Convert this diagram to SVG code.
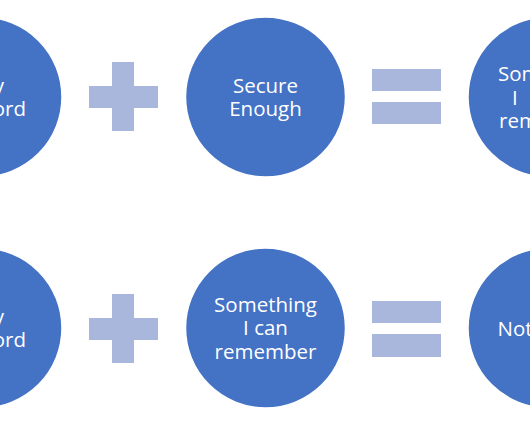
<svg xmlns="http://www.w3.org/2000/svg" width="530" height="442" viewBox="0 0 530 442">
  <style>
    .node { fill: #4472C4; stroke: #FFFFFF; stroke-width: 1.5; }
    .op { fill: #AAB7DC; }
    .lbl { font-family: "Open Sans", "Liberation Sans", sans-serif; font-size: 20.5px; fill: #FFFFFF; }
    .c { text-anchor: middle; }
    .e { text-anchor: end; }
    .s { text-anchor: start; }
  </style>
  <rect x="0" y="0" width="530" height="442" fill="#FFFFFF"/>

  <!-- Row 1 -->
  <g id="node-top-left">
    <circle class="node" cx="-18" cy="97" r="80"/>
    <text class="lbl e" x="4" y="93">y</text>
    <text class="lbl e" x="26" y="116">ord</text>
  </g>
  <g id="op-top-plus">
    <path class="op" d="M112,62 H134 V86 H158 V108 H134 V131 H112 V108 H89 V86 H112 Z"/>
  </g>
  <g id="node-top-middle">
    <circle class="node" cx="265.5" cy="97" r="80"/>
    <text class="lbl c" x="265.5" y="93">Secure</text>
    <text class="lbl c" x="265.5" y="116">Enough</text>
  </g>
  <g id="op-top-equals">
    <rect class="op" x="372" y="69" width="69" height="22"/>
    <rect class="op" x="372" y="102" width="69" height="22"/>
  </g>
  <g id="node-top-right">
    <circle class="node" cx="548" cy="97" r="80"/>
    <text class="lbl s" x="498" y="81">Som</text>
    <text class="lbl s" x="512" y="104.5">I</text>
    <text class="lbl s" x="499" y="128">rem</text>
  </g>

  <!-- Row 2 -->
  <g id="node-bottom-left">
    <circle class="node" cx="-18" cy="328" r="80"/>
    <text class="lbl e" x="4" y="323.5">y</text>
    <text class="lbl e" x="26" y="346.5">ord</text>
  </g>
  <g id="op-bottom-plus">
    <path class="op" d="M112,294 H134 V318 H158 V340 H134 V363 H112 V340 H89 V318 H112 Z"/>
  </g>
  <g id="node-bottom-middle">
    <circle class="node" cx="265.5" cy="328" r="80"/>
    <text class="lbl c" x="265.5" y="311.5">Something</text>
    <text class="lbl c" x="265.5" y="335">I can</text>
    <text class="lbl c" x="265.5" y="358.5">remember</text>
  </g>
  <g id="op-bottom-equals">
    <rect class="op" x="372" y="301" width="69" height="22"/>
    <rect class="op" x="372" y="334" width="69" height="23"/>
  </g>
  <g id="node-bottom-right">
    <circle class="node" cx="548" cy="328" r="80"/>
    <text class="lbl s" x="497.5" y="335.5">Not</text>
  </g>

  <g id="connectors"></g>
</svg>
